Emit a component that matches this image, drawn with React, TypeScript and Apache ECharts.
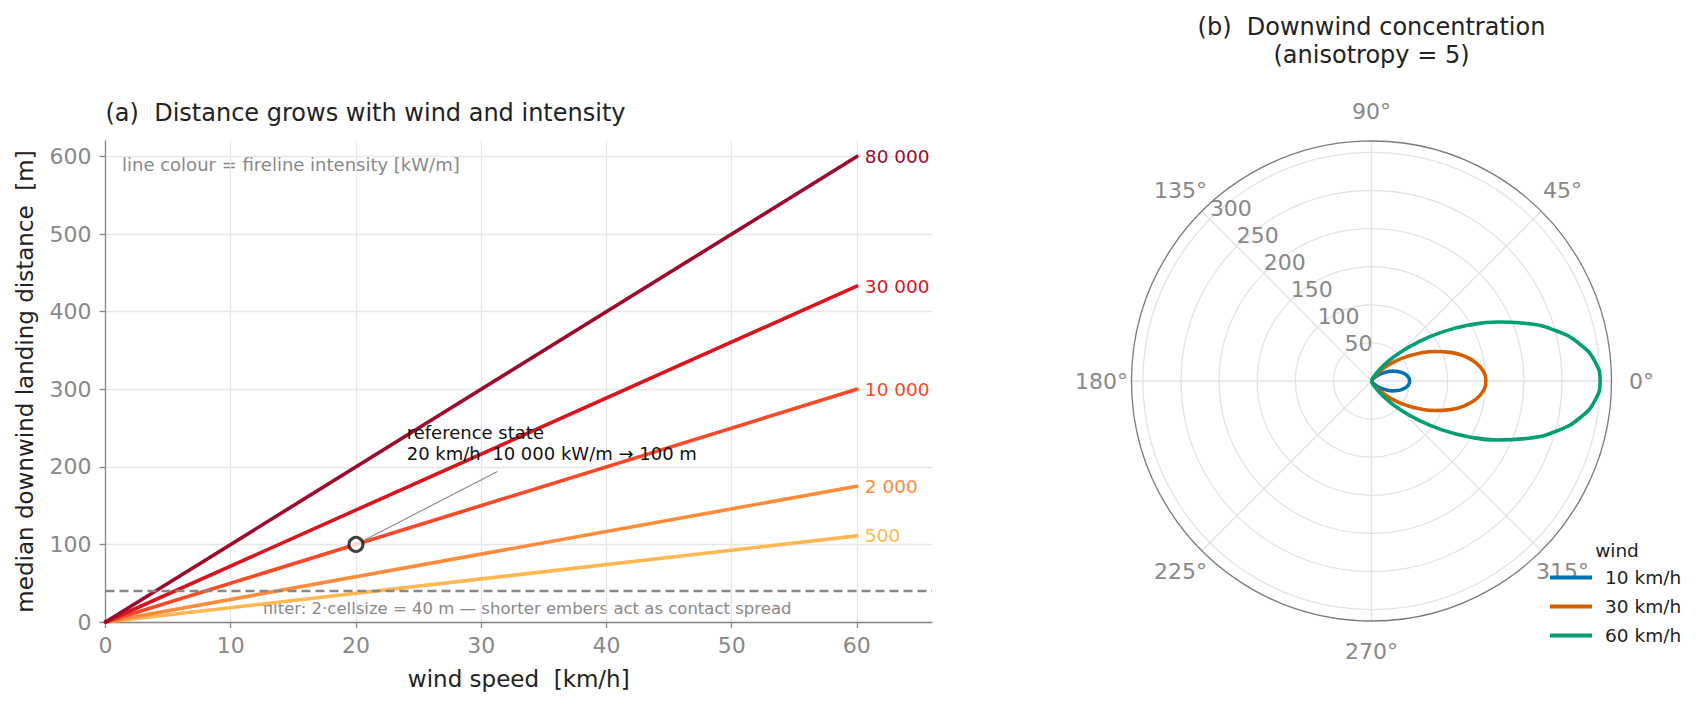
import React, { useEffect, useRef } from "react";
import * as echarts from "echarts";

// ---------- Panel (a) data ----------
const windSpeeds = [0, 60];
const intensityLabels = ["500", "2 000", "10 000", "30 000", "80 000"];
const distance500 = [0, 111];
const distance2000 = [0, 175];
const distance10000 = [0, 300];
const distance30000 = [0, 433];
const distance80000 = [0, 600];
const intensityColors = ["#feb751", "#fd8b3b", "#f84a28", "#d8141f", "#9c0a2c"];
const xTicks = [0, 10, 20, 30, 40, 50, 60];
const yTicks = [0, 100, 200, 300, 400, 500, 600];
const filterDistance = 40;
const referencePoint = [20, 100];
const referenceConnectorEnd = [31.3, 194];

// ---------- Panel (b) data ----------
const polarAngles = [0, 5, 10, 15, 20, 25, 30, 35, 40, 45, 50, 55, 60, 65, 70, 75, 80, 85, 90];
const radius10 = [50, 49.1, 46.3, 42.0, 36.6, 30.6, 24.4, 18.4, 13.2, 8.8, 5.5, 3.1, 1.6, 0.7, 0.2, 0.1, 0, 0, 0];
const radius30 = [150, 147.2, 138.9, 126.1, 109.9, 91.7, 73.1, 55.3, 39.6, 26.5, 16.5, 9.3, 4.7, 2.0, 0.7, 0.2, 0, 0, 0];
const radius60 = [300, 294.3, 277.9, 252.3, 219.8, 183.4, 146.1, 110.6, 79.1, 53.0, 32.9, 18.6, 9.4, 4.0, 1.4, 0.3, 0, 0, 0];
const windLabels = ["10 km/h", "30 km/h", "60 km/h"];
const windColors = ["#0072b2", "#d55e00", "#009e73"];
const angleTicks = [0, 45, 90, 135, 180, 225, 270, 315];

const FONT = "DejaVu Sans";
const GRAY = "#888888";
const GRID = "#e6e6e6";
const DARK = "#222222";

function loop(r: number[]) {
  const pts: number[][] = [];
  for (let i = polarAngles.length - 1; i > 0; i--) pts.push([r[i], 360 - polarAngles[i]]);
  for (let i = 0; i < polarAngles.length; i++) pts.push([r[i], polarAngles[i]]);
  return pts;
}

export default function App() {
  const ref = useRef<HTMLDivElement>(null);
  useEffect(() => {
    document.body.style.margin = "0";
    const chart = echarts.init(ref.current!, null, { renderer: "svg" });
    const distances = [distance500, distance2000, distance10000, distance30000, distance80000];
    const lineSeries = distances.map((d, i) => ({
      type: "line",
      name: intensityLabels[i],
      xAxisIndex: 0,
      yAxisIndex: 0,
      data: windSpeeds.map((w, j) => [w, d[j]]),
      showSymbol: false,
      symbol: "none",
      silent: true,
      z: 3,
      lineStyle: { color: intensityColors[i], width: 3.6, cap: "round" },
      itemStyle: { color: intensityColors[i] },
      endLabel: {
        show: true,
        formatter: intensityLabels[i],
        color: intensityColors[i],
        fontSize: 18.5,
        fontFamily: FONT,
        distance: 8,
      },
    }));
    const radii = [radius10, radius30, radius60];
    const polarSeries = radii.map((r, i) => ({
      type: "line",
      name: windLabels[i],
      coordinateSystem: "polar",
      polarIndex: 0,
      data: loop(r),
      showSymbol: false,
      symbol: "none",
      smooth: true,
      silent: true,
      z: 3,
      lineStyle: { color: windColors[i], width: 3.6 },
      itemStyle: { color: windColors[i] },
    }));
    const cx = 1371.5;
    const cy = 381;
    const polarRadius = 240;
    const angleLabelRadius = 270;
    const angleLabels = angleTicks.map((a) => ({
      type: "text",
      x: cx + angleLabelRadius * Math.cos((a * Math.PI) / 180),
      y: cy - angleLabelRadius * Math.sin((a * Math.PI) / 180),
      style: { text: a + "°", fontSize: 22, fontFamily: FONT, fill: GRAY, align: "center", verticalAlign: "middle" },
    }));
    const option: any = {
      animation: false,
      textStyle: { fontFamily: FONT },
      grid: {
        left: 105.5,
        top: 141,
        width: 826.5,
        height: 481,
        outerBoundsMode: "none",
      },
      xAxis: {
        type: "value",
        min: 0,
        max: 66,
        interval: 10,
        name: "wind speed  [km/h]",
        nameLocation: "middle",
        nameGap: 45,
        nameMoveOverlap: false,
        nameTextStyle: { color: DARK, fontSize: 23, fontFamily: FONT },
        axisLine: { show: true, lineStyle: { color: GRAY, width: 1.3 } },
        axisTick: { show: true, length: 6, customValues: xTicks, lineStyle: { color: GRAY, width: 1.3 } },
        axisLabel: { color: GRAY, fontSize: 22, margin: 12, customValues: xTicks, fontFamily: FONT },
        splitLine: { show: true, lineStyle: { color: GRID, width: 1.3 } },
      },
      yAxis: {
        type: "value",
        min: 0,
        max: 620,
        interval: 100,
        name: "median downwind landing distance  [m]",
        nameLocation: "middle",
        nameGap: 69,
        nameMoveOverlap: false,
        nameTextStyle: { color: DARK, fontSize: 23, fontFamily: FONT },
        axisLine: { show: true, lineStyle: { color: GRAY, width: 1.3 } },
        axisTick: { show: true, length: 6, customValues: yTicks, lineStyle: { color: GRAY, width: 1.3 } },
        axisLabel: { color: GRAY, fontSize: 22, margin: 14, customValues: yTicks, fontFamily: FONT },
        splitLine: { show: true, lineStyle: { color: GRID, width: 1.3 } },
      },
      polar: [
        { center: [cx, cy], radius: polarRadius },
        { center: [cx, cy], radius: polarRadius },
      ],
      angleAxis: [
        {
          polarIndex: 0,
          type: "value",
          min: 0,
          max: 360,
          interval: 45,
          startAngle: 0,
          clockwise: false,
          axisLine: { show: true, lineStyle: { color: "#7a7a7a", width: 1.3 } },
          axisTick: { show: false },
          axisLabel: { show: false },
          splitLine: { show: true, lineStyle: { color: "#e3e3e3", width: 1.3 } },
        },
        {
          polarIndex: 1,
          type: "value",
          min: 0,
          max: 360,
          startAngle: 135,
          clockwise: false,
          show: false,
        },
      ],
      radiusAxis: [
        {
          polarIndex: 0,
          type: "value",
          min: 0,
          max: 315,
          interval: 50,
          axisLine: { show: false },
          axisTick: { show: false },
          axisLabel: { show: false },
          splitLine: {
            show: true,
            lineStyle: {
              color: ["#e3e3e3", "#e3e3e3", "#e3e3e3", "#e3e3e3", "#e3e3e3", "#e3e3e3", "#e3e3e3", "rgba(0,0,0,0)"],
              width: 1.3,
            },
          },
        },
        {
          polarIndex: 1,
          type: "value",
          min: 0,
          max: 315,
          interval: 50,
          axisLine: { show: false },
          axisTick: { show: false },
          splitLine: { show: false },
          axisLabel: {
            show: true,
            color: GRAY,
            fontSize: 22,
            fontFamily: FONT,
            margin: 0,
            align: "left",
            verticalAlign: "bottom",
            showMinLabel: false,
            showMaxLabel: false,
            formatter: (v: number) => (v % 50 === 0 && v > 0 ? String(v) : ""),
          },
        },
      ],
      legend: {
        data: windLabels,
        orient: "vertical",
        left: 1550,
        top: 568,
        padding: 0,
        itemWidth: 42,
        itemHeight: 4,
        itemGap: 10,
        icon: "rect",
        selectedMode: false,
        textStyle: { color: DARK, fontSize: 18.5, fontFamily: FONT, lineHeight: 18, padding: [0, 0, 0, 8] },
      },
      series: [
        ...lineSeries,
        {
          type: "line",
          xAxisIndex: 0,
          yAxisIndex: 0,
          data: [],
          silent: true,
          z: 4,
          markLine: {
            silent: true,
            symbol: ["none", "none"],
            label: { show: false },
            data: [
              { yAxis: filterDistance, lineStyle: { color: "#888888", width: 2.4, type: [9, 5] } },
              [
                { coord: referencePoint, lineStyle: { color: "#888888", width: 1.1, type: "solid" } },
                { coord: referenceConnectorEnd },
              ],
            ],
          },
        },
        {
          type: "scatter",
          xAxisIndex: 0,
          yAxisIndex: 0,
          data: [referencePoint],
          symbol: "circle",
          symbolSize: 14,
          silent: true,
          z: 6,
          itemStyle: { color: "#ffffff", borderColor: "#111111", borderWidth: 3 },
        },
        ...polarSeries,
      ],
      graphic: [
        {
          type: "text",
          x: 105.5,
          y: 113,
          style: { text: "(a)  Distance grows with wind and intensity", fontSize: 24, fontFamily: FONT, fill: DARK, align: "left", verticalAlign: "middle" },
        },
        {
          type: "text",
          x: cx,
          y: 40.8,
          style: { text: "(b)  Downwind concentration\n(anisotropy = 5)", fontSize: 24, lineHeight: 28.3, fontFamily: FONT, fill: DARK, align: "center", verticalAlign: "middle" },
        },
        {
          type: "text",
          x: 122,
          y: 164,
          style: { text: "line colour = fireline intensity [kW/m]", fontSize: 18, fontFamily: FONT, fill: GRAY, align: "left", verticalAlign: "middle" },
        },
        {
          type: "text",
          x: 262.7,
          y: 608.3,
          style: { text: "filter: 2·cellsize = 40 m — shorter embers act as contact spread", fontSize: 16.5, fontFamily: FONT, fill: GRAY, align: "left", verticalAlign: "middle" },
        },
        {
          type: "text",
          x: 406.7,
          y: 443,
          z: 10,
          style: { text: "reference state\n20 km/h  10 000 kW/m → 100 m", fontSize: 18, lineHeight: 20.6, fontFamily: FONT, fill: "#111111", align: "left", verticalAlign: "middle" },
        },
        {
          type: "text",
          x: 1617,
          y: 550,
          style: { text: "wind", fontSize: 18.5, fontFamily: FONT, fill: DARK, align: "center", verticalAlign: "middle" },
        },
        ...angleLabels,
      ],
    };
    chart.setOption(option);
    return () => chart.dispose();
  }, []);
  return <div ref={ref} style={{ width: 1705, height: 707 }} />;
}
